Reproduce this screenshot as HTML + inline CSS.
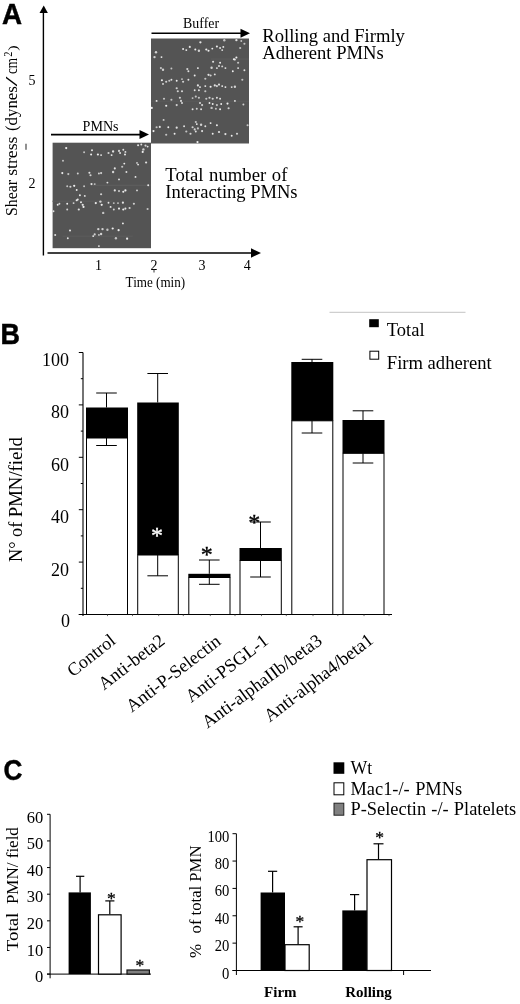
<!DOCTYPE html>
<html><head><meta charset="utf-8"><title>Figure</title>
<style>html,body{margin:0;padding:0;background:#fff;}svg{display:block;}</style>
</head><body>
<svg width="520" height="1004" viewBox="0 0 520 1004">
<rect x="0" y="0" width="520" height="1004" fill="#fff"/>
<text transform="translate(1.9 23.8) scale(1 1.045)" font-family='"Liberation Sans", sans-serif' font-size="27.8" font-weight="bold" stroke="#000" stroke-width="0.45">A</text>
<line x1="43.4" y1="9" x2="43.4" y2="255.5" stroke="#000" stroke-width="1.4"/>
<polygon points="43.7,5.5 39.5,13 47.9,13" fill="#000"/>
<line x1="47.5" y1="253" x2="253" y2="253" stroke="#000" stroke-width="1.6"/>
<polygon points="261,253 251,248.3 251,257.7" fill="#000"/>
<defs><filter id="bl" x="-5%" y="-5%" width="110%" height="110%"><feGaussianBlur stdDeviation="0.45"/></filter></defs>
<rect x="151" y="38.5" width="98" height="105" fill="#545454"/>
<g filter="url(#bl)">
<rect x="211" y="58.5" width="38" height="1.2" fill="#5a5a5a"/>
<rect x="151" y="100.5" width="98" height="1.2" fill="#595959"/>
<circle cx="200.4" cy="42.3" r="1.15" fill="#e2e2e2"/>
<circle cx="224.3" cy="40.2" r="1.18" fill="#c4c4c4"/>
<circle cx="236.4" cy="40.2" r="1.15" fill="#e2e2e2"/>
<circle cx="241.3" cy="41.0" r="0.97" fill="#c4c4c4"/>
<circle cx="244.4" cy="43.8" r="1.07" fill="#c4c4c4"/>
<circle cx="189.8" cy="46.9" r="1.05" fill="#e2e2e2"/>
<circle cx="186.3" cy="50.1" r="0.95" fill="#eeeeee"/>
<circle cx="183.1" cy="49.0" r="0.95" fill="#eeeeee"/>
<circle cx="195.3" cy="49.5" r="1.00" fill="#eeeeee"/>
<circle cx="198.9" cy="50.7" r="1.18" fill="#d2d2d2"/>
<circle cx="206.3" cy="49.5" r="1.10" fill="#eeeeee"/>
<circle cx="208.5" cy="50.7" r="1.05" fill="#eeeeee"/>
<circle cx="212.3" cy="48.6" r="0.95" fill="#eeeeee"/>
<circle cx="216.9" cy="46.5" r="1.05" fill="#eeeeee"/>
<circle cx="220.1" cy="48.0" r="0.95" fill="#e2e2e2"/>
<circle cx="223.3" cy="46.9" r="0.95" fill="#eeeeee"/>
<circle cx="222.2" cy="50.1" r="0.95" fill="#e2e2e2"/>
<circle cx="240.2" cy="48.0" r="1.07" fill="#c4c4c4"/>
<circle cx="156.0" cy="52.2" r="1.18" fill="#d2d2d2"/>
<circle cx="154.5" cy="57.1" r="1.18" fill="#d2d2d2"/>
<circle cx="161.5" cy="57.1" r="0.95" fill="#eeeeee"/>
<circle cx="236.4" cy="57.5" r="1.05" fill="#eeeeee"/>
<circle cx="234.9" cy="59.6" r="1.07" fill="#d2d2d2"/>
<circle cx="238.1" cy="62.8" r="1.07" fill="#c4c4c4"/>
<circle cx="233.9" cy="59.2" r="1.05" fill="#eeeeee"/>
<circle cx="213.1" cy="61.7" r="1.05" fill="#e2e2e2"/>
<circle cx="220.1" cy="62.8" r="0.95" fill="#eeeeee"/>
<circle cx="219.0" cy="66.0" r="0.95" fill="#e2e2e2"/>
<circle cx="160.9" cy="68.1" r="1.07" fill="#c4c4c4"/>
<circle cx="163.0" cy="69.8" r="1.18" fill="#d2d2d2"/>
<circle cx="171.4" cy="68.5" r="0.97" fill="#c4c4c4"/>
<circle cx="187.3" cy="69.1" r="1.07" fill="#d2d2d2"/>
<circle cx="188.4" cy="71.3" r="0.95" fill="#e2e2e2"/>
<circle cx="197.9" cy="68.1" r="0.95" fill="#eeeeee"/>
<circle cx="211.6" cy="67.7" r="1.18" fill="#d2d2d2"/>
<circle cx="216.9" cy="68.1" r="0.95" fill="#e2e2e2"/>
<circle cx="222.2" cy="66.4" r="0.97" fill="#d2d2d2"/>
<circle cx="225.4" cy="68.1" r="0.95" fill="#e2e2e2"/>
<circle cx="232.8" cy="71.3" r="0.95" fill="#eeeeee"/>
<circle cx="238.1" cy="68.1" r="0.95" fill="#e2e2e2"/>
<circle cx="244.4" cy="70.2" r="0.95" fill="#e2e2e2"/>
<circle cx="208.5" cy="74.8" r="1.10" fill="#e2e2e2"/>
<circle cx="210.6" cy="75.5" r="1.07" fill="#d2d2d2"/>
<circle cx="214.8" cy="74.4" r="0.95" fill="#e2e2e2"/>
<circle cx="194.7" cy="75.5" r="0.95" fill="#eeeeee"/>
<circle cx="161.9" cy="80.3" r="1.05" fill="#eeeeee"/>
<circle cx="166.2" cy="81.8" r="1.07" fill="#d2d2d2"/>
<circle cx="169.3" cy="80.8" r="1.07" fill="#c4c4c4"/>
<circle cx="171.4" cy="79.7" r="0.95" fill="#e2e2e2"/>
<circle cx="163.0" cy="83.9" r="0.95" fill="#e2e2e2"/>
<circle cx="176.7" cy="80.8" r="0.95" fill="#eeeeee"/>
<circle cx="182.0" cy="79.1" r="0.97" fill="#c4c4c4"/>
<circle cx="183.1" cy="81.8" r="1.07" fill="#d2d2d2"/>
<circle cx="188.4" cy="79.7" r="0.95" fill="#e2e2e2"/>
<circle cx="205.3" cy="78.7" r="1.07" fill="#c4c4c4"/>
<circle cx="242.3" cy="79.7" r="1.07" fill="#c4c4c4"/>
<circle cx="197.9" cy="85.4" r="1.10" fill="#e2e2e2"/>
<circle cx="200.0" cy="87.1" r="0.95" fill="#eeeeee"/>
<circle cx="205.3" cy="86.1" r="0.95" fill="#eeeeee"/>
<circle cx="210.6" cy="86.7" r="1.05" fill="#eeeeee"/>
<circle cx="214.8" cy="85.4" r="1.10" fill="#e2e2e2"/>
<circle cx="216.9" cy="86.1" r="1.07" fill="#d2d2d2"/>
<circle cx="219.0" cy="84.6" r="1.05" fill="#e2e2e2"/>
<circle cx="222.2" cy="86.1" r="0.95" fill="#eeeeee"/>
<circle cx="225.4" cy="87.1" r="0.95" fill="#eeeeee"/>
<circle cx="231.7" cy="87.1" r="0.95" fill="#e2e2e2"/>
<circle cx="234.9" cy="86.7" r="1.18" fill="#d2d2d2"/>
<circle cx="176.7" cy="88.2" r="1.07" fill="#d2d2d2"/>
<circle cx="177.8" cy="91.3" r="1.07" fill="#d2d2d2"/>
<circle cx="182.0" cy="91.3" r="1.07" fill="#d2d2d2"/>
<circle cx="194.7" cy="90.3" r="0.95" fill="#e2e2e2"/>
<circle cx="198.9" cy="90.3" r="0.95" fill="#e2e2e2"/>
<circle cx="205.3" cy="91.3" r="1.07" fill="#c4c4c4"/>
<circle cx="156.6" cy="100.9" r="0.95" fill="#eeeeee"/>
<circle cx="164.0" cy="98.8" r="1.07" fill="#c4c4c4"/>
<circle cx="171.4" cy="99.8" r="1.07" fill="#c4c4c4"/>
<circle cx="179.9" cy="97.7" r="1.07" fill="#d2d2d2"/>
<circle cx="181.0" cy="100.9" r="1.07" fill="#d2d2d2"/>
<circle cx="192.6" cy="98.1" r="0.97" fill="#c4c4c4"/>
<circle cx="195.8" cy="96.6" r="1.07" fill="#c4c4c4"/>
<circle cx="198.9" cy="97.7" r="1.07" fill="#c4c4c4"/>
<circle cx="206.3" cy="98.8" r="1.07" fill="#c4c4c4"/>
<circle cx="209.5" cy="97.7" r="1.07" fill="#d2d2d2"/>
<circle cx="212.7" cy="98.8" r="1.07" fill="#d2d2d2"/>
<circle cx="216.9" cy="97.7" r="0.95" fill="#e2e2e2"/>
<circle cx="220.1" cy="98.8" r="0.95" fill="#e2e2e2"/>
<circle cx="234.9" cy="100.9" r="0.95" fill="#e2e2e2"/>
<circle cx="166.2" cy="105.7" r="1.05" fill="#eeeeee"/>
<circle cx="176.7" cy="105.1" r="1.07" fill="#d2d2d2"/>
<circle cx="182.0" cy="103.0" r="0.95" fill="#e2e2e2"/>
<circle cx="200.0" cy="103.0" r="1.07" fill="#d2d2d2"/>
<circle cx="202.1" cy="105.1" r="1.07" fill="#d2d2d2"/>
<circle cx="209.5" cy="103.0" r="0.95" fill="#eeeeee"/>
<circle cx="212.7" cy="104.0" r="0.95" fill="#eeeeee"/>
<circle cx="216.9" cy="105.1" r="1.07" fill="#c4c4c4"/>
<circle cx="221.2" cy="104.0" r="0.95" fill="#eeeeee"/>
<circle cx="227.5" cy="103.6" r="1.05" fill="#eeeeee"/>
<circle cx="243.4" cy="104.5" r="0.97" fill="#d2d2d2"/>
<circle cx="192.6" cy="109.3" r="0.95" fill="#e2e2e2"/>
<circle cx="196.8" cy="108.7" r="0.97" fill="#d2d2d2"/>
<circle cx="201.1" cy="109.3" r="0.95" fill="#e2e2e2"/>
<circle cx="211.6" cy="107.9" r="1.18" fill="#c4c4c4"/>
<circle cx="215.9" cy="108.7" r="0.97" fill="#c4c4c4"/>
<circle cx="220.1" cy="109.3" r="0.95" fill="#eeeeee"/>
<circle cx="228.6" cy="108.3" r="1.07" fill="#d2d2d2"/>
<circle cx="151.8" cy="107.9" r="1.05" fill="#eeeeee"/>
<circle cx="163.6" cy="119.9" r="0.97" fill="#d2d2d2"/>
<circle cx="195.8" cy="122.0" r="1.07" fill="#c4c4c4"/>
<circle cx="196.8" cy="124.1" r="0.95" fill="#eeeeee"/>
<circle cx="201.1" cy="124.8" r="1.18" fill="#d2d2d2"/>
<circle cx="210.6" cy="123.1" r="0.95" fill="#eeeeee"/>
<circle cx="216.9" cy="125.2" r="0.95" fill="#eeeeee"/>
<circle cx="156.6" cy="127.3" r="1.07" fill="#c4c4c4"/>
<circle cx="159.8" cy="126.9" r="1.05" fill="#e2e2e2"/>
<circle cx="168.3" cy="127.3" r="0.95" fill="#eeeeee"/>
<circle cx="176.7" cy="127.7" r="1.10" fill="#e2e2e2"/>
<circle cx="184.1" cy="126.3" r="0.95" fill="#e2e2e2"/>
<circle cx="192.6" cy="127.3" r="1.07" fill="#d2d2d2"/>
<circle cx="194.7" cy="129.4" r="1.07" fill="#d2d2d2"/>
<circle cx="197.9" cy="128.4" r="1.07" fill="#c4c4c4"/>
<circle cx="205.3" cy="126.3" r="0.95" fill="#e2e2e2"/>
<circle cx="247.6" cy="125.2" r="1.07" fill="#c4c4c4"/>
<circle cx="153.5" cy="131.1" r="1.05" fill="#eeeeee"/>
<circle cx="166.2" cy="134.7" r="1.07" fill="#c4c4c4"/>
<circle cx="174.6" cy="133.7" r="0.95" fill="#eeeeee"/>
<circle cx="186.3" cy="131.5" r="1.07" fill="#c4c4c4"/>
<circle cx="190.5" cy="133.7" r="1.07" fill="#d2d2d2"/>
<circle cx="195.8" cy="131.5" r="0.95" fill="#e2e2e2"/>
<circle cx="202.1" cy="131.1" r="1.05" fill="#e2e2e2"/>
<circle cx="212.7" cy="133.7" r="0.95" fill="#eeeeee"/>
<circle cx="219.0" cy="132.0" r="1.10" fill="#e2e2e2"/>
<circle cx="225.4" cy="134.1" r="1.10" fill="#e2e2e2"/>
<circle cx="231.7" cy="135.8" r="0.95" fill="#eeeeee"/>
<circle cx="237.0" cy="133.7" r="1.07" fill="#d2d2d2"/>
<circle cx="197.5" cy="142.1" r="1.10" fill="#eeeeee"/>
</g>
<rect x="52.6" y="142.7" width="98.4" height="105.5" fill="#545454"/>
<g filter="url(#bl)">
<rect x="92.6" y="184.7" width="58" height="1.2" fill="#5c5c5c"/>
<rect x="52.6" y="200.7" width="60" height="1.2" fill="#5a5a5a"/>
<rect x="62.6" y="235.7" width="70" height="1.2" fill="#595959"/>
<circle cx="66.2" cy="148.1" r="1.10" fill="#eeeeee"/>
<circle cx="138.1" cy="145.2" r="1.05" fill="#e2e2e2"/>
<circle cx="141.3" cy="144.5" r="0.95" fill="#e2e2e2"/>
<circle cx="145.5" cy="145.6" r="1.07" fill="#d2d2d2"/>
<circle cx="147.6" cy="146.6" r="0.95" fill="#e2e2e2"/>
<circle cx="143.4" cy="149.4" r="1.18" fill="#d2d2d2"/>
<circle cx="142.7" cy="151.9" r="1.05" fill="#eeeeee"/>
<circle cx="84.1" cy="152.3" r="0.97" fill="#c4c4c4"/>
<circle cx="92.0" cy="150.2" r="0.95" fill="#eeeeee"/>
<circle cx="91.1" cy="154.5" r="1.00" fill="#eeeeee"/>
<circle cx="97.9" cy="154.5" r="1.10" fill="#eeeeee"/>
<circle cx="101.1" cy="155.1" r="0.95" fill="#e2e2e2"/>
<circle cx="108.5" cy="153.0" r="1.07" fill="#d2d2d2"/>
<circle cx="111.6" cy="155.1" r="0.95" fill="#eeeeee"/>
<circle cx="113.1" cy="151.5" r="1.15" fill="#e2e2e2"/>
<circle cx="119.0" cy="150.9" r="1.07" fill="#d2d2d2"/>
<circle cx="120.1" cy="153.0" r="0.95" fill="#e2e2e2"/>
<circle cx="123.3" cy="149.8" r="0.95" fill="#e2e2e2"/>
<circle cx="125.4" cy="151.9" r="0.95" fill="#e2e2e2"/>
<circle cx="125.0" cy="154.5" r="1.00" fill="#eeeeee"/>
<circle cx="63.0" cy="160.8" r="0.97" fill="#c4c4c4"/>
<circle cx="124.3" cy="163.6" r="0.95" fill="#eeeeee"/>
<circle cx="137.0" cy="162.9" r="0.97" fill="#c4c4c4"/>
<circle cx="138.1" cy="164.6" r="0.95" fill="#e2e2e2"/>
<circle cx="146.1" cy="162.5" r="1.10" fill="#e2e2e2"/>
<circle cx="114.8" cy="168.4" r="1.05" fill="#e2e2e2"/>
<circle cx="122.2" cy="166.7" r="1.07" fill="#c4c4c4"/>
<circle cx="113.1" cy="172.0" r="1.18" fill="#d2d2d2"/>
<circle cx="62.3" cy="173.1" r="1.05" fill="#eeeeee"/>
<circle cx="68.3" cy="174.1" r="1.07" fill="#c4c4c4"/>
<circle cx="77.8" cy="173.5" r="0.97" fill="#d2d2d2"/>
<circle cx="89.4" cy="172.7" r="1.05" fill="#e2e2e2"/>
<circle cx="90.5" cy="175.2" r="1.07" fill="#d2d2d2"/>
<circle cx="98.9" cy="173.5" r="0.97" fill="#d2d2d2"/>
<circle cx="101.1" cy="173.1" r="1.07" fill="#d2d2d2"/>
<circle cx="126.4" cy="172.0" r="0.95" fill="#e2e2e2"/>
<circle cx="135.5" cy="176.9" r="0.95" fill="#eeeeee"/>
<circle cx="119.0" cy="179.4" r="0.95" fill="#e2e2e2"/>
<circle cx="107.4" cy="182.6" r="0.95" fill="#e2e2e2"/>
<circle cx="67.2" cy="186.2" r="0.97" fill="#c4c4c4"/>
<circle cx="70.4" cy="186.8" r="1.07" fill="#d2d2d2"/>
<circle cx="74.2" cy="185.8" r="1.10" fill="#eeeeee"/>
<circle cx="76.7" cy="190.0" r="0.95" fill="#eeeeee"/>
<circle cx="84.1" cy="186.2" r="0.97" fill="#c4c4c4"/>
<circle cx="91.5" cy="184.1" r="1.10" fill="#e2e2e2"/>
<circle cx="94.7" cy="184.1" r="0.97" fill="#c4c4c4"/>
<circle cx="148.2" cy="185.3" r="0.95" fill="#eeeeee"/>
<circle cx="114.8" cy="190.4" r="1.10" fill="#e2e2e2"/>
<circle cx="119.0" cy="191.1" r="1.07" fill="#c4c4c4"/>
<circle cx="123.3" cy="191.7" r="1.05" fill="#eeeeee"/>
<circle cx="125.4" cy="190.4" r="1.10" fill="#eeeeee"/>
<circle cx="137.0" cy="190.4" r="0.97" fill="#d2d2d2"/>
<circle cx="79.9" cy="195.3" r="0.95" fill="#eeeeee"/>
<circle cx="84.8" cy="195.9" r="0.95" fill="#e2e2e2"/>
<circle cx="101.1" cy="194.2" r="1.07" fill="#d2d2d2"/>
<circle cx="77.8" cy="199.5" r="0.95" fill="#e2e2e2"/>
<circle cx="57.7" cy="204.8" r="0.95" fill="#eeeeee"/>
<circle cx="59.4" cy="203.8" r="0.97" fill="#d2d2d2"/>
<circle cx="67.2" cy="203.8" r="0.95" fill="#eeeeee"/>
<circle cx="73.6" cy="203.1" r="0.97" fill="#d2d2d2"/>
<circle cx="76.7" cy="200.2" r="1.05" fill="#eeeeee"/>
<circle cx="81.0" cy="202.3" r="1.05" fill="#e2e2e2"/>
<circle cx="82.7" cy="204.8" r="1.10" fill="#e2e2e2"/>
<circle cx="83.5" cy="206.9" r="1.05" fill="#eeeeee"/>
<circle cx="95.8" cy="203.1" r="1.10" fill="#eeeeee"/>
<circle cx="100.4" cy="201.6" r="1.18" fill="#d2d2d2"/>
<circle cx="101.7" cy="204.8" r="1.10" fill="#eeeeee"/>
<circle cx="108.5" cy="202.7" r="0.95" fill="#e2e2e2"/>
<circle cx="113.8" cy="203.1" r="0.97" fill="#c4c4c4"/>
<circle cx="118.0" cy="203.1" r="0.97" fill="#c4c4c4"/>
<circle cx="122.9" cy="202.7" r="1.10" fill="#e2e2e2"/>
<circle cx="133.9" cy="203.8" r="1.07" fill="#d2d2d2"/>
<circle cx="67.2" cy="209.5" r="0.97" fill="#d2d2d2"/>
<circle cx="78.8" cy="209.5" r="1.10" fill="#e2e2e2"/>
<circle cx="110.6" cy="206.9" r="0.95" fill="#eeeeee"/>
<circle cx="113.8" cy="209.5" r="0.97" fill="#d2d2d2"/>
<circle cx="119.0" cy="208.6" r="1.05" fill="#eeeeee"/>
<circle cx="123.3" cy="209.5" r="1.10" fill="#eeeeee"/>
<circle cx="125.4" cy="208.6" r="1.05" fill="#e2e2e2"/>
<circle cx="129.6" cy="208.0" r="1.07" fill="#d2d2d2"/>
<circle cx="147.6" cy="209.0" r="1.07" fill="#c4c4c4"/>
<circle cx="53.5" cy="211.2" r="0.95" fill="#e2e2e2"/>
<circle cx="103.2" cy="212.9" r="1.18" fill="#c4c4c4"/>
<circle cx="122.9" cy="223.4" r="0.95" fill="#eeeeee"/>
<circle cx="98.3" cy="229.1" r="1.18" fill="#d2d2d2"/>
<circle cx="102.5" cy="229.1" r="1.18" fill="#d2d2d2"/>
<circle cx="107.4" cy="229.8" r="1.18" fill="#c4c4c4"/>
<circle cx="112.7" cy="228.5" r="1.10" fill="#eeeeee"/>
<circle cx="118.6" cy="230.2" r="1.10" fill="#eeeeee"/>
<circle cx="70.0" cy="230.6" r="1.00" fill="#eeeeee"/>
<circle cx="55.2" cy="234.9" r="1.00" fill="#e2e2e2"/>
<circle cx="67.8" cy="238.2" r="0.95" fill="#e2e2e2"/>
<circle cx="93.2" cy="236.1" r="0.95" fill="#eeeeee"/>
<circle cx="94.7" cy="234.4" r="1.07" fill="#d2d2d2"/>
<circle cx="98.9" cy="234.9" r="0.97" fill="#c4c4c4"/>
<circle cx="101.1" cy="234.0" r="1.18" fill="#d2d2d2"/>
<circle cx="115.9" cy="238.2" r="1.18" fill="#c4c4c4"/>
<circle cx="127.1" cy="238.7" r="1.10" fill="#eeeeee"/>
<circle cx="98.9" cy="246.1" r="0.95" fill="#e2e2e2"/>
</g>
<line x1="151.5" y1="33.3" x2="242" y2="33.3" stroke="#000" stroke-width="1.6"/>
<polygon points="250,33.3 240.5,28.8 240.5,37.8" fill="#000"/>
<line x1="51" y1="134.6" x2="141" y2="134.6" stroke="#000" stroke-width="1.6"/>
<polygon points="149,134.6 139.5,130.1 139.5,139.1" fill="#000"/>
<text x="183.1" y="28.3" font-family='"Liberation Serif", serif' font-size="15" font-weight="normal" text-anchor="start" fill="#000" textLength="36" lengthAdjust="spacingAndGlyphs">Buffer</text>
<text x="82.6" y="131" font-family='"Liberation Serif", serif' font-size="15" font-weight="normal" text-anchor="start" fill="#000" textLength="36" lengthAdjust="spacingAndGlyphs">PMNs</text>
<text x="32" y="85" font-family='"Liberation Serif", serif' font-size="14" font-weight="normal" text-anchor="middle" fill="#000" >5</text>
<text x="32" y="187.5" font-family='"Liberation Serif", serif' font-size="14" font-weight="normal" text-anchor="middle" fill="#000" >2</text>
<line x1="26" y1="143.8" x2="26" y2="149.8" stroke="#555" stroke-width="1.3"/>
<text x="98.5" y="269.5" font-family='"Liberation Serif", serif' font-size="14" font-weight="normal" text-anchor="middle" fill="#000" >1</text>
<text x="154" y="269.5" font-family='"Liberation Serif", serif' font-size="14" font-weight="normal" text-anchor="middle" fill="#000" >2</text>
<line x1="154" y1="269.5" x2="154" y2="272.5" stroke="#333" stroke-width="1"/>
<text x="202" y="269.5" font-family='"Liberation Serif", serif' font-size="14" font-weight="normal" text-anchor="middle" fill="#000" >3</text>
<text x="247.3" y="269.5" font-family='"Liberation Serif", serif' font-size="14" font-weight="normal" text-anchor="middle" fill="#000" >4</text>
<text x="125.6" y="287.2" font-family='"Liberation Serif", serif' font-size="14.6" font-weight="normal" text-anchor="start" fill="#000" textLength="59.5" lengthAdjust="spacingAndGlyphs">Time (min)</text>
<text x="17.4" y="216" font-family='"Liberation Serif", serif' font-size="17.3" font-weight="normal" text-anchor="start" fill="#000" transform="rotate(-90 17.4 216)" textLength="36" lengthAdjust="spacingAndGlyphs">Shear</text>
<text x="17.4" y="175.8" font-family='"Liberation Serif", serif' font-size="17.3" font-weight="normal" text-anchor="start" fill="#000" transform="rotate(-90 17.4 175.8)" textLength="39.3" lengthAdjust="spacingAndGlyphs">stress</text>
<text x="17.4" y="131" font-family='"Liberation Serif", serif' font-size="17.3" font-weight="normal" text-anchor="start" fill="#000" transform="rotate(-90 17.4 131)" textLength="44.8" lengthAdjust="spacingAndGlyphs">(dynes</text>
<text x="17.4" y="86.6" font-family='"Liberation Serif", serif' font-size="17.3" font-weight="normal" text-anchor="start" fill="#000" transform="rotate(-90 17.4 86.6)" textLength="10" lengthAdjust="spacingAndGlyphs">/</text>
<text x="17.4" y="74.1" font-family='"Liberation Serif", serif' font-size="17.3" font-weight="normal" text-anchor="start" fill="#000" transform="rotate(-90 17.4 74.1)" textLength="16.2" lengthAdjust="spacingAndGlyphs">cm</text>
<text x="11.6" y="56.8" font-family='"Liberation Serif", serif' font-size="11.5" font-weight="normal" text-anchor="start" fill="#000" transform="rotate(-90 11.6 56.8)" textLength="5.2" lengthAdjust="spacingAndGlyphs">2</text>
<text x="17.2" y="50.7" font-family='"Liberation Serif", serif' font-size="11.5" font-weight="normal" text-anchor="start" fill="#000" transform="rotate(-90 17.2 50.7)" textLength="5.4" lengthAdjust="spacingAndGlyphs">)</text>
<text x="262.3" y="41.7" font-family='"Liberation Serif", serif' font-size="18.6" font-weight="normal" text-anchor="start" fill="#000" >Rolling and Firmly</text>
<text x="262.3" y="58.6" font-family='"Liberation Serif", serif' font-size="18.6" font-weight="normal" text-anchor="start" fill="#000" >Adherent PMNs</text>
<text x="165.3" y="180.8" font-family='"Liberation Serif", serif' font-size="18.7" font-weight="normal" text-anchor="start" fill="#000" word-spacing="1">Total number of</text>
<text x="165.3" y="197.7" font-family='"Liberation Serif", serif' font-size="18.55" font-weight="normal" text-anchor="start" fill="#000" >Interacting PMNs</text>
<text transform="translate(0.6 343.6) scale(0.97 1.035)" font-family='"Liberation Sans", sans-serif' font-size="27.8" font-weight="bold" stroke="#000" stroke-width="0.45">B</text>
<line x1="329.5" y1="312.3" x2="465.5" y2="312.3" stroke="#c4c4c4" stroke-width="1"/>
<rect x="369.2" y="319.2" width="9.6" height="8" fill="#000"/>
<rect x="369.9" y="351.2" width="8.8" height="8" fill="#fff" stroke="#000" stroke-width="1"/>
<text x="386.8" y="335.9" font-family='"Liberation Serif", serif' font-size="18.5" font-weight="normal" text-anchor="start" fill="#000" >Total</text>
<text x="386.8" y="368.6" font-family='"Liberation Serif", serif' font-size="18.6" font-weight="normal" text-anchor="start" fill="#000" >Firm adherent</text>
<line x1="83" y1="352.5" x2="83" y2="616.0" stroke="#000" stroke-width="1.1"/>
<line x1="78.8" y1="614.5" x2="392" y2="614.5" stroke="#000" stroke-width="1"/>
<line x1="78.8" y1="614.5" x2="83" y2="614.5" stroke="#000" stroke-width="1"/>
<line x1="80.8" y1="588.3" x2="83" y2="588.3" stroke="#000" stroke-width="1"/>
<line x1="78.8" y1="562.1" x2="83" y2="562.1" stroke="#000" stroke-width="1"/>
<line x1="80.8" y1="535.9" x2="83" y2="535.9" stroke="#000" stroke-width="1"/>
<line x1="78.8" y1="509.7" x2="83" y2="509.7" stroke="#000" stroke-width="1"/>
<line x1="80.8" y1="483.5" x2="83" y2="483.5" stroke="#000" stroke-width="1"/>
<line x1="78.8" y1="457.3" x2="83" y2="457.3" stroke="#000" stroke-width="1"/>
<line x1="80.8" y1="431.1" x2="83" y2="431.1" stroke="#000" stroke-width="1"/>
<line x1="78.8" y1="404.9" x2="83" y2="404.9" stroke="#000" stroke-width="1"/>
<line x1="80.8" y1="378.7" x2="83" y2="378.7" stroke="#000" stroke-width="1"/>
<line x1="78.8" y1="352.5" x2="83" y2="352.5" stroke="#000" stroke-width="1"/>
<text x="68.9" y="366.0" font-family='"Liberation Serif", serif' font-size="18" font-weight="normal" text-anchor="end" fill="#000" >100</text>
<text x="68.9" y="418.4" font-family='"Liberation Serif", serif' font-size="18" font-weight="normal" text-anchor="end" fill="#000" >80</text>
<text x="68.9" y="470.8" font-family='"Liberation Serif", serif' font-size="18" font-weight="normal" text-anchor="end" fill="#000" >60</text>
<text x="68.9" y="523.2" font-family='"Liberation Serif", serif' font-size="18" font-weight="normal" text-anchor="end" fill="#000" >40</text>
<text x="68.9" y="575.6" font-family='"Liberation Serif", serif' font-size="18" font-weight="normal" text-anchor="end" fill="#000" >20</text>
<text x="69.9" y="627" font-family='"Liberation Serif", serif' font-size="18" font-weight="normal" text-anchor="end" fill="#000" >0</text>
<text x="21.8" y="562" font-family='"Liberation Serif", serif' font-size="18.3" font-weight="normal" text-anchor="start" fill="#000" transform="rotate(-90 21.8 562)" >N°</text>
<text x="21.8" y="537" font-family='"Liberation Serif", serif' font-size="18.3" font-weight="normal" text-anchor="start" fill="#000" transform="rotate(-90 21.8 537)" >of</text>
<text x="21.8" y="517.3" font-family='"Liberation Serif", serif' font-size="18.3" font-weight="normal" text-anchor="start" fill="#000" transform="rotate(-90 21.8 517.3)" textLength="80.3" lengthAdjust="spacingAndGlyphs">PMN/field</text>
<rect x="86.5" y="438" width="41" height="176.5" fill="#fff" stroke="#000" stroke-width="1"/>
<rect x="86" y="407.5" width="42" height="30.5" fill="#000"/>
<line x1="106.5" y1="393" x2="106.5" y2="407.5" stroke="#000" stroke-width="1"/>
<line x1="96.2" y1="393" x2="116.8" y2="393" stroke="#000" stroke-width="1"/>
<line x1="106.5" y1="438" x2="106.5" y2="445.5" stroke="#000" stroke-width="1"/>
<line x1="96.2" y1="445.5" x2="116.8" y2="445.5" stroke="#000" stroke-width="1"/>
<line x1="107.5" y1="614.5" x2="107.5" y2="616.1" stroke="#444" stroke-width="0.8"/>
<line x1="132.5" y1="614.5" x2="132.5" y2="616.1" stroke="#444" stroke-width="0.8"/>
<rect x="137.7" y="555" width="40.60000000000002" height="59.5" fill="#fff" stroke="#000" stroke-width="1"/>
<rect x="137.2" y="402.5" width="41.60000000000002" height="152.5" fill="#000"/>
<line x1="157.7" y1="373.5" x2="157.7" y2="402.5" stroke="#000" stroke-width="1"/>
<line x1="147.39999999999998" y1="373.5" x2="168.0" y2="373.5" stroke="#000" stroke-width="1"/>
<line x1="157.7" y1="555" x2="157.7" y2="575.8" stroke="#000" stroke-width="1"/>
<line x1="147.39999999999998" y1="575.8" x2="168.0" y2="575.8" stroke="#000" stroke-width="1"/>
<line x1="158.7" y1="614.5" x2="158.7" y2="616.1" stroke="#444" stroke-width="0.8"/>
<line x1="183.3" y1="614.5" x2="183.3" y2="616.1" stroke="#444" stroke-width="0.8"/>
<rect x="188.8" y="577.5" width="41.19999999999999" height="37.0" fill="#fff" stroke="#000" stroke-width="1"/>
<rect x="188.3" y="573.8" width="42.19999999999999" height="3.7000000000000455" fill="#000"/>
<line x1="209.3" y1="560" x2="209.3" y2="573.8" stroke="#000" stroke-width="1"/>
<line x1="199.0" y1="560" x2="219.60000000000002" y2="560" stroke="#000" stroke-width="1"/>
<line x1="209.3" y1="577.5" x2="209.3" y2="584.3" stroke="#000" stroke-width="1"/>
<line x1="199.0" y1="584.3" x2="219.60000000000002" y2="584.3" stroke="#000" stroke-width="1"/>
<line x1="210.3" y1="614.5" x2="210.3" y2="616.1" stroke="#444" stroke-width="0.8"/>
<line x1="235.0" y1="614.5" x2="235.0" y2="616.1" stroke="#444" stroke-width="0.8"/>
<rect x="240.0" y="560.5" width="41.30000000000001" height="54.0" fill="#fff" stroke="#000" stroke-width="1"/>
<rect x="239.5" y="548" width="42.30000000000001" height="12.5" fill="#000"/>
<line x1="260.5" y1="522" x2="260.5" y2="548" stroke="#000" stroke-width="1"/>
<line x1="250.2" y1="522" x2="270.8" y2="522" stroke="#000" stroke-width="1"/>
<line x1="260.5" y1="560.5" x2="260.5" y2="577" stroke="#000" stroke-width="1"/>
<line x1="250.2" y1="577" x2="270.8" y2="577" stroke="#000" stroke-width="1"/>
<line x1="261.5" y1="614.5" x2="261.5" y2="616.1" stroke="#444" stroke-width="0.8"/>
<line x1="286.3" y1="614.5" x2="286.3" y2="616.1" stroke="#444" stroke-width="0.8"/>
<rect x="291.8" y="420.8" width="41.0" height="193.7" fill="#fff" stroke="#000" stroke-width="1"/>
<rect x="291.3" y="362" width="42.0" height="58.80000000000001" fill="#000"/>
<line x1="312" y1="359.3" x2="312" y2="362" stroke="#000" stroke-width="1"/>
<line x1="301.7" y1="359.3" x2="322.3" y2="359.3" stroke="#000" stroke-width="1"/>
<line x1="312" y1="420.8" x2="312" y2="433" stroke="#000" stroke-width="1"/>
<line x1="301.7" y1="433" x2="322.3" y2="433" stroke="#000" stroke-width="1"/>
<line x1="313" y1="614.5" x2="313" y2="616.1" stroke="#444" stroke-width="0.8"/>
<line x1="337.8" y1="614.5" x2="337.8" y2="616.1" stroke="#444" stroke-width="0.8"/>
<rect x="343.0" y="453.3" width="41.0" height="161.2" fill="#fff" stroke="#000" stroke-width="1"/>
<rect x="342.5" y="420" width="42.0" height="33.30000000000001" fill="#000"/>
<line x1="363" y1="410.8" x2="363" y2="420" stroke="#000" stroke-width="1"/>
<line x1="352.7" y1="410.8" x2="373.3" y2="410.8" stroke="#000" stroke-width="1"/>
<line x1="363" y1="453.3" x2="363" y2="463" stroke="#000" stroke-width="1"/>
<line x1="352.7" y1="463" x2="373.3" y2="463" stroke="#000" stroke-width="1"/>
<line x1="364" y1="614.5" x2="364" y2="616.1" stroke="#444" stroke-width="0.8"/>
<line x1="389.0" y1="614.5" x2="389.0" y2="616.1" stroke="#444" stroke-width="0.8"/>
<text x="157.1" y="543.3" font-family='"Liberation Serif", serif' font-size="24" font-weight="normal" text-anchor="middle" fill="#fff" stroke="#fff" stroke-width="0.35">*</text>
<text x="206.8" y="562" font-family='"Liberation Serif", serif' font-size="24" font-weight="normal" text-anchor="middle" fill="#000" stroke="#000" stroke-width="0.35">*</text>
<text x="254.3" y="529.5" font-family='"Liberation Serif", serif' font-size="24" font-weight="normal" text-anchor="middle" fill="#000" stroke="#000" stroke-width="0.35">*</text>
<text x="116.8" y="642.6" font-family='"Liberation Serif", serif' font-size="18.3" font-weight="normal" text-anchor="end" fill="#000" transform="rotate(-38.5 116.8 642.6)" >Control</text>
<text x="166.0" y="643.0" font-family='"Liberation Serif", serif' font-size="18.3" font-weight="normal" text-anchor="end" fill="#000" transform="rotate(-37.5 166.0 643.0)" >Anti-beta2</text>
<text x="222.0" y="643.5" font-family='"Liberation Serif", serif' font-size="18.3" font-weight="normal" text-anchor="end" fill="#000" transform="rotate(-37.5 222.0 643.5)" >Anti-P-Selectin</text>
<text x="269.5" y="643" font-family='"Liberation Serif", serif' font-size="18.3" font-weight="normal" text-anchor="end" fill="#000" transform="rotate(-37.5 269.5 643)" >Anti-PSGL-1</text>
<text x="323.3" y="643" font-family='"Liberation Serif", serif' font-size="18.3" font-weight="normal" text-anchor="end" fill="#000" transform="rotate(-36.5 323.3 643)" >Anti-alphaIIb/beta3</text>
<text x="374.5" y="642.2" font-family='"Liberation Serif", serif' font-size="18.3" font-weight="normal" text-anchor="end" fill="#000" transform="rotate(-37.5 374.5 642.2)" >Anti-alpha4/beta1</text>
<text transform="translate(3.5 779.5) scale(0.94 1.06)" font-family='"Liberation Sans", sans-serif' font-size="27.8" font-weight="bold" stroke="#000" stroke-width="0.45">C</text>
<rect x="333.5" y="762.3" width="10.8" height="11.5" fill="#000"/>
<rect x="334" y="782.8" width="9.8" height="12" fill="#fff" stroke="#000" stroke-width="1"/>
<rect x="334" y="803.2" width="9.8" height="12" fill="#808080" stroke="#222" stroke-width="1"/>
<text x="350.5" y="773.8" font-family='"Liberation Serif", serif' font-size="17.8" font-weight="normal" text-anchor="start" fill="#000" >Wt</text>
<text x="350.5" y="794.6" font-family='"Liberation Serif", serif' font-size="18.4" font-weight="normal" text-anchor="start" fill="#000" word-spacing="0.8">Mac1-/- PMNs</text>
<text x="350.5" y="815" font-family='"Liberation Serif", serif' font-size="18.4" font-weight="normal" text-anchor="start" fill="#000" word-spacing="0.6">P-Selectin -/- Platelets</text>
<line x1="50.1" y1="814.3" x2="50.1" y2="978.3000000000001" stroke="#000" stroke-width="1"/>
<line x1="47" y1="974.1" x2="151" y2="974.1" stroke="#000" stroke-width="1"/>
<line x1="47" y1="974.1" x2="50.1" y2="974.1" stroke="#000" stroke-width="1"/>
<text x="43.3" y="982.3000000000001" font-family='"Liberation Serif", serif' font-size="16.5" font-weight="normal" text-anchor="end" fill="#000" >0</text>
<line x1="47" y1="947.4666666666667" x2="50.1" y2="947.4666666666667" stroke="#000" stroke-width="1"/>
<text x="43.3" y="955.6666666666667" font-family='"Liberation Serif", serif' font-size="16.5" font-weight="normal" text-anchor="end" fill="#000" >10</text>
<line x1="47" y1="920.8333333333334" x2="50.1" y2="920.8333333333334" stroke="#000" stroke-width="1"/>
<text x="43.3" y="929.0333333333334" font-family='"Liberation Serif", serif' font-size="16.5" font-weight="normal" text-anchor="end" fill="#000" >20</text>
<line x1="47" y1="894.2" x2="50.1" y2="894.2" stroke="#000" stroke-width="1"/>
<text x="43.3" y="902.4000000000001" font-family='"Liberation Serif", serif' font-size="16.5" font-weight="normal" text-anchor="end" fill="#000" >30</text>
<line x1="47" y1="867.5666666666666" x2="50.1" y2="867.5666666666666" stroke="#000" stroke-width="1"/>
<text x="43.3" y="875.7666666666667" font-family='"Liberation Serif", serif' font-size="16.5" font-weight="normal" text-anchor="end" fill="#000" >40</text>
<line x1="47" y1="840.9333333333333" x2="50.1" y2="840.9333333333333" stroke="#000" stroke-width="1"/>
<text x="43.3" y="849.1333333333333" font-family='"Liberation Serif", serif' font-size="16.5" font-weight="normal" text-anchor="end" fill="#000" >50</text>
<line x1="47" y1="814.3" x2="50.1" y2="814.3" stroke="#000" stroke-width="1"/>
<text x="43.3" y="822.5" font-family='"Liberation Serif", serif' font-size="16.5" font-weight="normal" text-anchor="end" fill="#000" >60</text>
<text x="18.3" y="951.3" font-family='"Liberation Serif", serif' font-size="17" font-weight="normal" text-anchor="start" fill="#000" transform="rotate(-90 18.3 951.3)" textLength="38.7" lengthAdjust="spacingAndGlyphs">Total</text>
<text x="18.3" y="904.1" font-family='"Liberation Serif", serif' font-size="17" font-weight="normal" text-anchor="start" fill="#000" transform="rotate(-90 18.3 904.1)" >PMN/ field</text>
<rect x="68.6" y="892.4" width="22.3" height="81.70000000000005" fill="#000"/>
<line x1="80.1" y1="876.3" x2="80.1" y2="892.4" stroke="#000" stroke-width="1.2"/>
<line x1="76" y1="876.3" x2="84.3" y2="876.3" stroke="#000" stroke-width="1.2"/>
<rect x="98.5" y="914.8" width="22.6" height="59.30000000000007" fill="#fff" stroke="#000" stroke-width="1.2"/>
<line x1="109.8" y1="900.9" x2="109.8" y2="914.3" stroke="#000" stroke-width="1.2"/>
<line x1="105.3" y1="900.9" x2="114.4" y2="900.9" stroke="#000" stroke-width="1.2"/>
<rect x="127" y="970" width="22.4" height="4.100000000000023" fill="#808080" stroke="#111" stroke-width="1.2"/>
<text x="111.4" y="904.2" font-family='"Liberation Serif", serif' font-size="17.5" font-weight="normal" text-anchor="middle" fill="#000" stroke="#000" stroke-width="0.3">*</text>
<text x="139.9" y="971.2" font-family='"Liberation Serif", serif' font-size="17.5" font-weight="normal" text-anchor="middle" fill="#000" stroke="#000" stroke-width="0.3">*</text>
<line x1="236.4" y1="833.7" x2="236.4" y2="975.0" stroke="#000" stroke-width="1"/>
<line x1="232.5" y1="970.5" x2="431" y2="970.5" stroke="#000" stroke-width="1"/>
<line x1="403.6" y1="970.5" x2="403.6" y2="975.0" stroke="#000" stroke-width="1"/>
<line x1="232.5" y1="970.5" x2="236.4" y2="970.5" stroke="#000" stroke-width="1"/>
<text x="229.3" y="978.5" font-family='"Liberation Serif", serif' font-size="17" font-weight="normal" text-anchor="end" fill="#000" textLength="7.3" lengthAdjust="spacingAndGlyphs">0</text>
<line x1="232.5" y1="943.14" x2="236.4" y2="943.14" stroke="#000" stroke-width="1"/>
<text x="229.3" y="951.14" font-family='"Liberation Serif", serif' font-size="17" font-weight="normal" text-anchor="end" fill="#000" textLength="14.6" lengthAdjust="spacingAndGlyphs">20</text>
<line x1="232.5" y1="915.78" x2="236.4" y2="915.78" stroke="#000" stroke-width="1"/>
<text x="229.3" y="923.78" font-family='"Liberation Serif", serif' font-size="17" font-weight="normal" text-anchor="end" fill="#000" textLength="14.6" lengthAdjust="spacingAndGlyphs">40</text>
<line x1="232.5" y1="888.4200000000001" x2="236.4" y2="888.4200000000001" stroke="#000" stroke-width="1"/>
<text x="229.3" y="896.4200000000001" font-family='"Liberation Serif", serif' font-size="17" font-weight="normal" text-anchor="end" fill="#000" textLength="14.6" lengthAdjust="spacingAndGlyphs">60</text>
<line x1="232.5" y1="861.0600000000001" x2="236.4" y2="861.0600000000001" stroke="#000" stroke-width="1"/>
<text x="229.3" y="869.0600000000001" font-family='"Liberation Serif", serif' font-size="17" font-weight="normal" text-anchor="end" fill="#000" textLength="14.6" lengthAdjust="spacingAndGlyphs">80</text>
<line x1="232.5" y1="833.7" x2="236.4" y2="833.7" stroke="#000" stroke-width="1"/>
<text x="229.3" y="841.7" font-family='"Liberation Serif", serif' font-size="17" font-weight="normal" text-anchor="end" fill="#000" textLength="21.9" lengthAdjust="spacingAndGlyphs">100</text>
<text x="201" y="958" font-family='"Liberation Serif", serif' font-size="17" font-weight="normal" text-anchor="start" fill="#000" transform="rotate(-90 201 958)" >%</text>
<text x="201" y="933.4" font-family='"Liberation Serif", serif' font-size="17" font-weight="normal" text-anchor="start" fill="#000" transform="rotate(-90 201 933.4)" textLength="87.8" lengthAdjust="spacingAndGlyphs">of total PMN</text>
<rect x="260.6" y="892.5" width="24.4" height="78.0" fill="#000"/>
<line x1="272.6" y1="871.3" x2="272.6" y2="892.5" stroke="#000" stroke-width="1.2"/>
<line x1="268" y1="871.3" x2="277.2" y2="871.3" stroke="#000" stroke-width="1.2"/>
<rect x="285" y="944.7" width="24.2" height="25.799999999999955" fill="#fff" stroke="#000" stroke-width="1.2"/>
<line x1="298.1" y1="926.8" x2="298.1" y2="944.2" stroke="#000" stroke-width="1.2"/>
<line x1="293.6" y1="926.8" x2="302.6" y2="926.8" stroke="#000" stroke-width="1.2"/>
<text x="299.8" y="927" font-family='"Liberation Serif", serif' font-size="17.5" font-weight="normal" text-anchor="middle" fill="#000" stroke="#000" stroke-width="0.3">*</text>
<rect x="342.3" y="910.4" width="24.6" height="60.10000000000002" fill="#000"/>
<line x1="354.6" y1="894.6" x2="354.6" y2="910.4" stroke="#000" stroke-width="1.2"/>
<line x1="350" y1="894.6" x2="359.2" y2="894.6" stroke="#000" stroke-width="1.2"/>
<rect x="367" y="859.7" width="24.5" height="110.79999999999995" fill="#fff" stroke="#000" stroke-width="1.2"/>
<line x1="378.5" y1="843.8" x2="378.5" y2="859.2" stroke="#000" stroke-width="1.2"/>
<line x1="373.5" y1="843.8" x2="383.5" y2="843.8" stroke="#000" stroke-width="1.2"/>
<text x="379.6" y="842.6" font-family='"Liberation Serif", serif' font-size="17.5" font-weight="normal" text-anchor="middle" fill="#000" stroke="#000" stroke-width="0.3">*</text>
<text x="280.3" y="997.3" font-family='"Liberation Serif", serif' font-size="15" font-weight="bold" text-anchor="middle" fill="#000" >Firm</text>
<text x="368.5" y="997.3" font-family='"Liberation Serif", serif' font-size="15" font-weight="bold" text-anchor="middle" fill="#000" >Rolling</text>
</svg>
</body></html>
